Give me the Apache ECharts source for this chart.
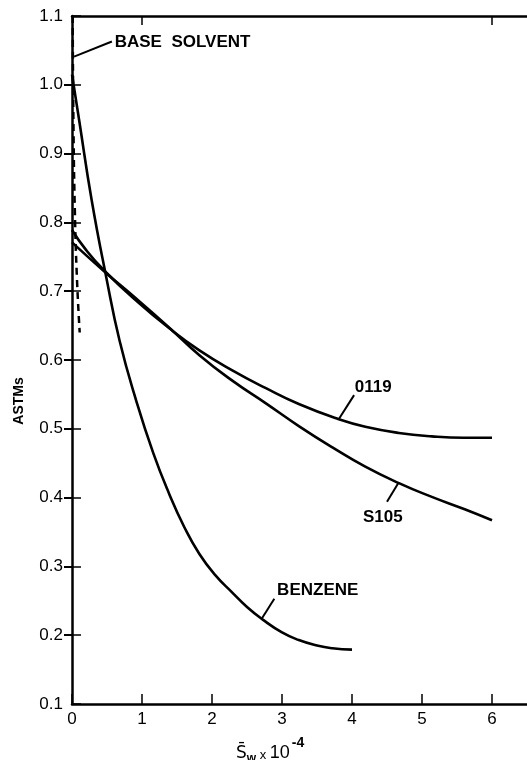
<!DOCTYPE html>
<html>
<head>
<meta charset="utf-8">
<script src="https://cdn.jsdelivr.net/npm/echarts@6/dist/echarts.min.js"></script>
<style>
html,body{margin:0;padding:0;background:#fff;}
#chart{width:527px;height:760px;}
</style>
</head>
<body>
<div id="chart"></div>
<script>
// ---- data ----
const xTicks = [0, 1, 2, 3, 4, 5, 6];
const topTicks = [1, 6];
const rightTicks = [0.2, 0.3, 0.4, 0.5, 0.6, 0.7, 0.8, 0.9, 1.0];

const baseSolvent = [[0.01,1.10],[0.02,0.95],[0.04,0.82],[0.07,0.72],[0.11,0.64]];
const benzene = [[0,1.015],[0.1,0.95],[0.28,0.833],[0.49,0.720],[0.68,0.628],[0.92,0.540],[1.16,0.465],[1.39,0.405],[1.6,0.358],[1.82,0.318],[2.05,0.287],[2.29,0.262],[2.5,0.241],[2.72,0.223],[3.0,0.204],[3.24,0.193],[3.5,0.185],[3.72,0.181],[4.0,0.179]];
const s0119 = [[0,0.789],[0.2,0.760],[0.47,0.729],[0.92,0.686],[1.39,0.646],[1.82,0.614],[2.29,0.585],[2.77,0.559],[3.24,0.536],[3.81,0.514],[4.19,0.503],[4.67,0.494],[5.14,0.489],[5.6,0.487],[6.0,0.487]];
const s105 = [[0,0.771],[0.47,0.728],[0.92,0.689],[1.39,0.647],[1.82,0.607],[2.29,0.570],[2.77,0.537],[3.24,0.504],[3.72,0.473],[4.19,0.445],[4.67,0.421],[5.14,0.401],[5.61,0.383],[6.0,0.367]];

const labelNames = ['BASE  SOLVENT', '0119', 'S105', 'BENZENE'];
const leaderStart = [[0.03,1.041],[3.81,0.514],[4.66,0.421],[2.71,0.224]];
const leaderEnd = [[0.57,1.063],[4.03,0.549],[4.50,0.394],[2.89,0.253]];
const labelAt = [[0.61,1.062],[4.04,0.560],[4.44,0.371],[2.93,0.265]];
const labelAlign = ['left','left','center','left'];

const FONT = 'Liberation Sans';
const chart = echarts.init(document.getElementById('chart'), null, {renderer:'canvas'});

function curve(name, data, dashed){
  return {
    name, type:'line', data, xAxisIndex:0, yAxisIndex:0,
    smooth:0.5, showSymbol:false, symbol:'none',
    lineStyle: dashed ? {color:'#000', width:2.5, type:[7,5]} : {color:'#000', width:2.6},
    silent:true, animation:false
  };
}

const option = {
  animation:false,
  backgroundColor:'#fff',
  grid:{left:72, top:16, width:457, height:688, containLabel:false},
  xAxis:[{
    type:'value', min:0, max:6.5, interval:1, position:'bottom',
    axisLine:{show:true, lineStyle:{color:'#000', width:2.5}},
    axisTick:{show:true, inside:true, length:10, lineStyle:{color:'#000', width:1.5}, customValues:xTicks},
    axisLabel:{show:true, margin:7, color:'#000', fontFamily:FONT, fontSize:17, customValues:xTicks},
    splitLine:{show:false}
  },{
    type:'value', min:0, max:6.5, interval:1, position:'top',
    axisLine:{show:true, lineStyle:{color:'#000', width:2.5}},
    axisTick:{show:true, inside:true, length:9, lineStyle:{color:'#000', width:1.5}, customValues:topTicks},
    axisLabel:{show:false},
    splitLine:{show:false}
  }],
  yAxis:[{
    type:'value', min:0.1, max:1.1, interval:0.1, position:'left',
    axisLine:{show:true, lineStyle:{color:'#000', width:2.5}},
    axisTick:{show:true, inside:true, length:9, lineStyle:{color:'#000', width:1.5}},
    axisLabel:{show:true, margin:9, color:'#000', fontFamily:FONT, fontSize:17,
      formatter:v=>v.toFixed(1)},
    splitLine:{show:false}
  },{
    type:'value', min:0.1, max:1.1, interval:0.1, position:'right',
    axisLine:{show:false},
    axisTick:{show:true, inside:true, length:8, lineStyle:{color:'#000', width:2}, customValues:rightTicks},
    axisLabel:{show:false},
    splitLine:{show:false}
  }],
  series:[
    curve('BASE SOLVENT', baseSolvent, true),
    curve('BENZENE', benzene),
    curve('0119', s0119),
    curve('S105', s105)
  ]
};
chart.setOption(option);

const g = [];
for (let i = 0; i < labelNames.length; i++) {
  const a = chart.convertToPixel({gridIndex:0}, leaderStart[i]);
  const b = chart.convertToPixel({gridIndex:0}, leaderEnd[i]);
  const t = chart.convertToPixel({gridIndex:0}, labelAt[i]);
  g.push({type:'line', shape:{x1:a[0], y1:a[1], x2:b[0], y2:b[1]}, style:{stroke:'#000', lineWidth:2}, silent:true});
  g.push({type:'text', x:t[0], y:t[1], style:{text:labelNames[i], fill:'#000', font:'bold 17px "' + FONT + '"', textAlign:labelAlign[i], textVerticalAlign:'middle'}, silent:true});
}
// y-axis title
g.push({type:'text', x:19, y:401, rotation:Math.PI/2, style:{text:'ASTMs', fill:'#000', font:'bold 14px "' + FONT + '"', textAlign:'center', textVerticalAlign:'middle'}, silent:true});
// x-axis title
g.push({type:'text', x:236, y:749, style:{
  text:'{s|S\u0304}{sub|w}{x| x }{n|10}{sup|-4}',
  textVerticalAlign:'middle', textAlign:'left',
  rich:{
    s:{fontFamily:'DejaVu Sans', fontSize:17, fill:'#000', verticalAlign:'bottom'},
    sub:{fontFamily:FONT, fontSize:12, fontWeight:'bold', fill:'#000', verticalAlign:'bottom', padding:[0,0,-3,0]},
    x:{fontFamily:FONT, fontSize:13, fill:'#000', verticalAlign:'bottom'},
    n:{fontFamily:FONT, fontSize:18, fill:'#000', verticalAlign:'bottom'},
    sup:{fontFamily:FONT, fontSize:14, fontWeight:'bold', fill:'#000', verticalAlign:'top', padding:[0,0,12,2]}
  }
}, silent:true});
chart.setOption({graphic:g});
</script>
</body>
</html>
